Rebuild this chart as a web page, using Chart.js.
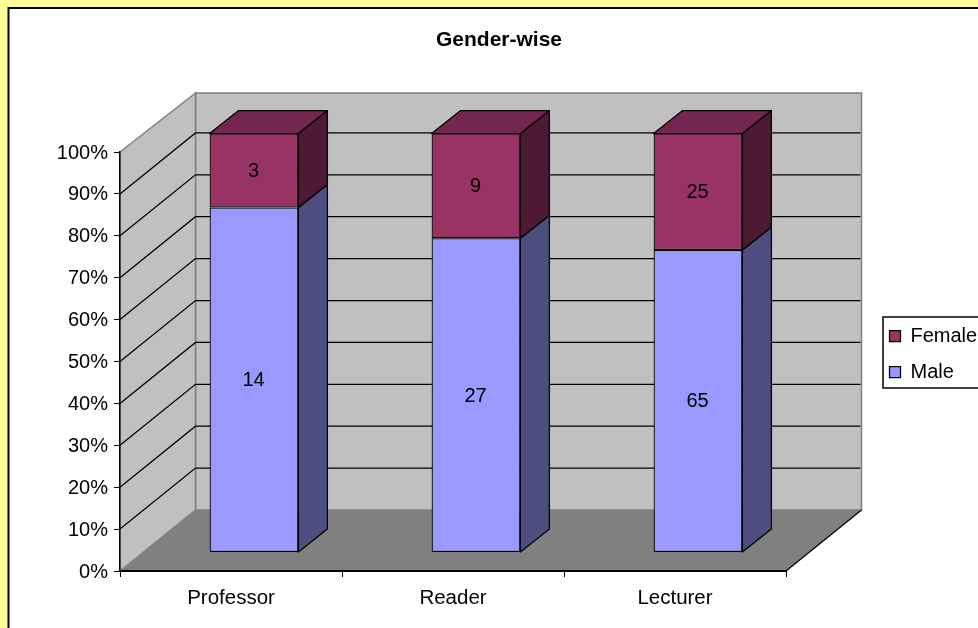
<!DOCTYPE html>
<html>
<head>
<meta charset="utf-8">
<style>html,body{margin:0;padding:0;background:#fff}canvas{display:block}</style>
<script src="https://cdn.jsdelivr.net/npm/chart.js@4"></script>
</head>
<body>
<canvas id="c" width="978" height="628"></canvas>
<script>
const categories = ['Professor', 'Reader', 'Lecturer'];
const maleCounts = [14, 27, 65];
const femaleCounts = [3, 9, 25];
const yTicks = [0, 10, 20, 30, 40, 50, 60, 70, 80, 90, 100];
const titleText = 'Gender-wise';

const FONT = '"Liberation Sans", Arial, sans-serif';
const totals = categories.map((_, i) => maleCounts[i] + femaleCounts[i]);
const malePct = maleCounts.map((v, i) => v / totals[i] * 100);
const femalePct = femaleCounts.map((v, i) => v / totals[i] * 100);

const WALL = {dx: 75.5, dy: -61};
const BAR = {ox: 23, oy: -18.5, dx: 29, dy: -23};
const C = {
  wall: '#C0C0C0', floor: '#808080', edge: '#808080',
  maleSide: '#4D4D80', femaleSide: '#4D1933', femaleTop: '#732650'
};

function poly(ctx, pts, fill, stroke, lw) {
  ctx.beginPath();
  pts.forEach((p, i) => i ? ctx.lineTo(p[0], p[1]) : ctx.moveTo(p[0], p[1]));
  ctx.closePath();
  if (fill) { ctx.fillStyle = fill; ctx.fill(); }
  if (stroke) { ctx.strokeStyle = stroke; ctx.lineWidth = lw || 1; ctx.stroke(); }
}

const threeD = {
  id: 'threeD',
  afterLayout(chart) {
    const t = chart.titleBlock; t.left = 10; t.right = 988;
    const l = chart.legend; l.left = 873.5; l.right = 978; l.top = 310; l.bottom = 500;
  },
  beforeDraw(chart) {
    const ctx = chart.ctx, w = chart.width, h = chart.height;
    ctx.save();
    ctx.fillStyle = '#FFFF99'; ctx.fillRect(0, 0, w, h);
    ctx.fillStyle = '#FFFFFF'; ctx.fillRect(8.5, 8.5, w, h);
    ctx.strokeStyle = '#000'; ctx.lineWidth = 2;
    ctx.beginPath(); ctx.moveTo(8.5, h + 2); ctx.lineTo(8.5, 8); ctx.lineTo(w + 2, 8); ctx.stroke();

    const y = chart.scales.y, x = chart.scales.x;
    const l = x.left, r = x.right, b = y.getPixelForValue(0), t = y.getPixelForValue(100);
    const d = WALL;
    const wallTop = t + d.dy + 2;
    // walls and floor
    poly(ctx, [[l + d.dx, wallTop], [r + d.dx, wallTop], [r + d.dx, b + d.dy], [l + d.dx, b + d.dy]], C.wall, C.edge, 1.5);
    poly(ctx, [[l, t], [l + d.dx, wallTop], [l + d.dx, b + d.dy], [l, b]], C.wall, C.edge, 1.5);
    poly(ctx, [[l, b], [l + d.dx, b + d.dy], [r + d.dx, b + d.dy], [r, b]], C.floor, null);
    // grid lines
    ctx.strokeStyle = '#000'; ctx.lineWidth = 1.25;
    yTicks.forEach(v => {
      if (v === 0 || v === 100) return;
      const py = y.getPixelForValue(v);
      ctx.beginPath();
      ctx.moveTo(l, py); ctx.lineTo(l + d.dx, py + d.dy); ctx.lineTo(r + d.dx - 1, py + d.dy);
      ctx.stroke();
    });
    // right floor edge
    ctx.beginPath(); ctx.moveTo(r, b); ctx.lineTo(r + d.dx, b + d.dy); ctx.stroke();
    // legend frame
    ctx.strokeStyle = '#000'; ctx.lineWidth = 1.5;
    ctx.strokeRect(883, 317, 120, 71);
    ctx.restore();
  },
  beforeDatasetsDraw(chart) {
    const ctx = chart.ctx;
    ctx.save();
    ctx.translate(BAR.ox, BAR.oy);
    const d = BAR;
    const m0 = chart.getDatasetMeta(0).data, m1 = chart.getDatasetMeta(1).data;
    ctx.lineJoin = 'round';
    categories.forEach((_, i) => {
      const male = m0[i], fem = m1[i];
      const R = male.x + male.width / 2, L = male.x - male.width / 2;
      poly(ctx, [[R, male.base], [R + d.dx, male.base + d.dy], [R + d.dx, male.y + d.dy], [R, male.y]], C.maleSide, '#000', 1.25);
      poly(ctx, [[R, fem.base], [R + d.dx, fem.base + d.dy], [R + d.dx, fem.y + d.dy], [R, fem.y]], C.femaleSide, '#000', 1.25);
      poly(ctx, [[L, fem.y], [L + d.dx, fem.y + d.dy], [R + d.dx, fem.y + d.dy], [R, fem.y]], C.femaleTop, '#000', 1.25);
    });
  },
  afterDatasetsDraw(chart) {
    const ctx = chart.ctx;
    ctx.fillStyle = '#000';
    ctx.font = '20px ' + FONT;
    ctx.textAlign = 'center';
    ctx.textBaseline = 'middle';
    [maleCounts, femaleCounts].forEach((vals, ds) => {
      chart.getDatasetMeta(ds).data.forEach((el, i) => {
        ctx.fillText(String(vals[i]), el.x - 0.5, (el.y + el.base) / 2 + 1);
      });
    });
    ctx.restore();
  }
};

new Chart(document.getElementById('c'), {
  type: 'bar',
  data: {
    labels: categories,
    datasets: [
      {label: 'Male', data: malePct, backgroundColor: '#9999FF', borderColor: '#000', borderWidth: 1.25, borderSkipped: false, clip: false},
      {label: 'Female', data: femalePct, backgroundColor: '#993366', borderColor: '#000', borderWidth: 1.25, borderSkipped: false, clip: false}
    ]
  },
  options: {
    responsive: false,
    animation: false,
    events: [],
    layout: {padding: {left: 20, right: 192, top: 27.5, bottom: 17}},
    barPercentage: 1,
    categoryPercentage: 0.4,
    scales: {
      x: {
        stacked: true,
        offset: true,
        afterFit(s) { s.height = 40; },
        grid: {display: true, drawOnChartArea: false, drawTicks: true, tickLength: 6, tickColor: '#000', tickWidth: 1},
        border: {display: true, color: '#000', width: 2},
        ticks: {color: '#000', font: {family: FONT, size: 20.5}, padding: 9, autoSkip: false, maxRotation: 0}
      },
      y: {
        stacked: true,
        min: 0,
        max: 100,
        afterFit(s) { s.width = 100; },
        afterBuildTicks(s) { s.ticks = yTicks.map(v => ({value: v})); },
        grid: {display: true, drawOnChartArea: false, drawTicks: true, tickLength: 6, tickColor: '#000', tickWidth: 1},
        border: {display: true, color: '#000', width: 1.5},
        ticks: {color: '#000', font: {family: FONT, size: 20}, padding: 6, labelOffset: 1, callback: v => v + '%'}
      }
    },
    plugins: {
      title: {display: true, text: titleText, color: '#000', font: {family: FONT, size: 21, weight: 'bold'}, padding: {top: 0, bottom: 99.3}},
      legend: {
        display: true,
        position: 'chartArea',
        align: 'start',
        reverse: true,
        labels: {color: '#000', boxWidth: 11, boxHeight: 11, padding: 16, font: {family: FONT, size: 20}}
      },
      tooltip: {enabled: false}
    }
  },
  plugins: [threeD]
});
</script>
</body>
</html>
